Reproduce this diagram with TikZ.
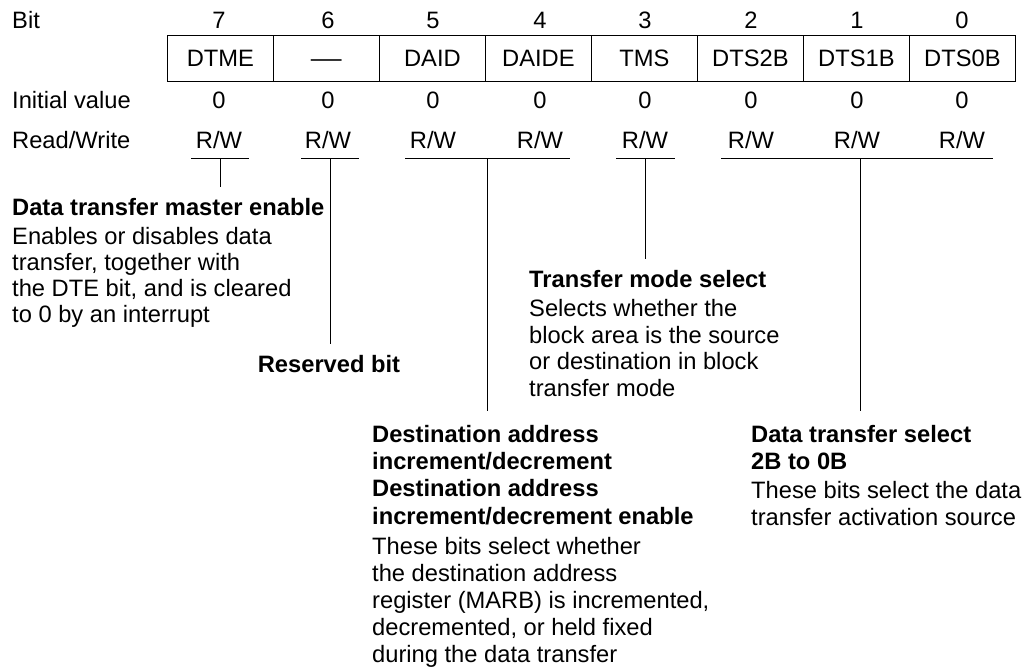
\documentclass[tikz,border=0pt]{standalone}
\usepackage{fontspec}
\setmainfont{Liberation Sans}
\begin{document}
\begin{tikzpicture}[x=1pt,y=-1pt,
  txt/.style={inner sep=0pt, font=\fontsize{23.7}{27}\selectfont},
  lbl/.style={txt, anchor=base},
  lft/.style={txt, anchor=base west, align=left},
  desc/.style={lft, font={\fontsize{23.7}{#1}\selectfont}},
  ttl/.style={lft, font={\fontsize{23.7}{#1}\selectfont\bfseries}},
  cell/.style={draw, line width=0.8pt, minimum width=106pt, minimum height=46pt,
    inner sep=0pt, anchor=north west, text height=17pt, text depth=0pt,
    font=\fontsize{23.7}{27}\selectfont},
  ln/.style={line width=0.8pt}]
\useasboundingbox (0,0) rectangle (1026,667);

% row labels
\node[lft] (lblbit) at (12,28) {Bit};
\node[lft] (lblinit) at (12,108) {Initial value};
\node[lft] (lblrw) at (12,148) {Read/Write};

% register cells
\node[cell] (c7) at (167,35) {DTME};
\node[cell] (c6) at (273,35) {\scalebox{1.3}[1]{—}};
\node[cell] (c5) at (379,35) {DAID};
\node[cell] (c4) at (485,35) {DAIDE};
\node[cell] (c3) at (591,35) {TMS};
\node[cell] (c2) at (697,35) {DTS2B};
\node[cell] (c1) at (803,35) {DTS1B};
\node[cell] (c0) at (909,35) {DTS0B};

% bit numbers, initial values, R/W
\foreach \b/\x in {7/219,6/328,5/433,4/540,3/645,2/751,1/857,0/962}{
  \node[lbl] (n\b) at (\x,28) {\b};
  \node[lbl] (v\b) at (\x,108) {0};
  \node[lbl] (rw\b) at (\x,148) {R/W};
}

% underlines
\coordinate (u7a) at (191,158); \coordinate (u7b) at (249,158);
\coordinate (u6a) at (301,158); \coordinate (u6b) at (359,158);
\coordinate (u54a) at (405,158); \coordinate (u54b) at (570,158);
\coordinate (u3a) at (616,158); \coordinate (u3b) at (675,158);
\coordinate (u20a) at (721,158); \coordinate (u20b) at (993,158);
\draw[ln] (u7a) -- (u7b);
\draw[ln] (u6a) -- (u6b);
\draw[ln] (u54a) -- (u54b);
\draw[ln] (u3a) -- (u3b);
\draw[ln] (u20a) -- (u20b);

% vertical leaders
\coordinate (m7) at (220,158); \coordinate (e7) at (220,187);
\coordinate (m6) at (330,158); \coordinate (e6) at (330,344);
\coordinate (m54) at (487,158); \coordinate (e54) at (487,411);
\coordinate (m3) at (645,158); \coordinate (e3) at (645,259);
\coordinate (m20) at (860,158); \coordinate (e20) at (860,411);
\draw[ln] (m7) -- (e7);
\draw[ln] (m6) -- (e6);
\draw[ln] (m54) -- (e54);
\draw[ln] (m3) -- (e3);
\draw[ln] (m20) -- (e20);

% descriptions (base anchor = baseline of the last line)
\node[ttl=27] (t7) at (12,215) {Data transfer master enable};
\node[desc=26] (d7) at (12,322) {Enables or disables data\\transfer, together with\\the DTE bit, and is cleared\\to 0 by an interrupt};

\node[lbl, font={\fontsize{23.7}{27}\selectfont\bfseries}] (t6) at (329,372) {Reserved bit};

\node[ttl=27] (t3) at (529,287) {Transfer mode select};
\node[desc=26.4] (d3) at (529,396) {Selects whether the\\block area is the source\\or destination in block\\transfer mode};

\node[ttl=27.3] (t54) at (372,524) {Destination address\\increment/decrement\\Destination address\\increment/decrement enable};
\node[desc=27] (d54) at (372,662) {These bits select whether\\the destination address\\register (MARB) is incremented,\\decremented, or held fixed\\during the data transfer};

\node[ttl=27] (t20) at (751,469) {Data transfer select\\2B to 0B};
\node[desc=27] (d20) at (751,525) {These bits select the data\\transfer activation source};
\end{tikzpicture}
\end{document}
